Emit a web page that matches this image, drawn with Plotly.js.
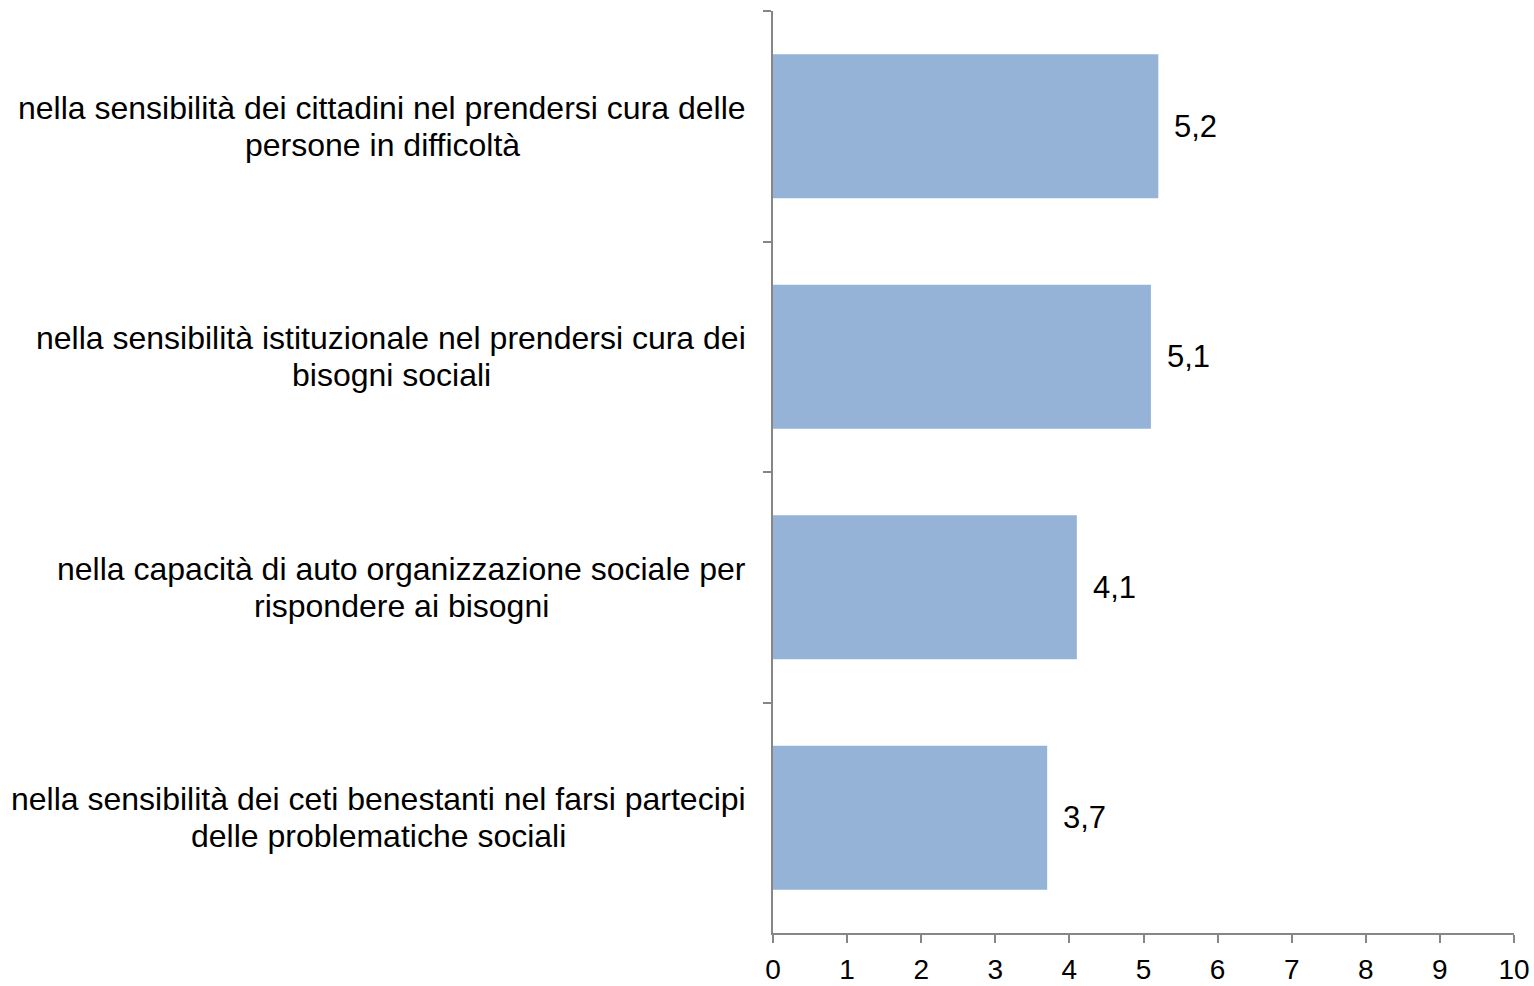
<!DOCTYPE html>
<html>
<head>
<meta charset="utf-8">
<script src="https://cdn.plot.ly/plotly-3.0.1.min.js"></script>
<style>html,body{margin:0;padding:0;background:#fff;}#chart{width:1534px;height:986px;}</style>
</head>
<body>
<div id="chart"></div>
<script>
const categories = [
  "nella sensibilità dei cittadini nel prendersi cura delle<br>persone in difficoltà",
  "nella sensibilità istituzionale nel prendersi cura dei<br>bisogni sociali",
  "nella capacità di auto organizzazione sociale per<br>rispondere ai bisogni",
  "nella sensibilità dei ceti benestanti nel farsi partecipi<br>delle problematiche sociali"
];
const values = [5.2, 5.1, 4.1, 3.7];
const valueLabels = ["5,2", "5,1", "4,1", "3,7"];
const xTicks = [0,1,2,3,4,5,6,7,8,9,10];

const font = "Liberation Sans, Arial, sans-serif";
const catSize = 32;
const ids = categories.map((c, i) => "c" + i);

const ctx = document.createElement("canvas").getContext("2d");
ctx.font = catSize + "px 'Liberation Sans'";

const annotations = [];
const lineGap = 37;
categories.forEach((c, i) => {
  const lines = c.split("<br>");
  const widths = lines.map(l => ctx.measureText(l).width);
  const maxW = Math.max(...widths);
  lines.forEach((l, j) => {
    annotations.push({
      xref: "paper", x: 0, yref: "y", y: ids[i],
      text: l, showarrow: false, xanchor: "center", yanchor: "middle",
      xshift: -27 - maxW / 2,
      yshift: ((lines.length - 1) / 2 - j) * lineGap,
      font: {family: font, size: catSize, color: "#000"}
    });
  });
  annotations.push({
    xref: "x", x: values[i], yref: "y", y: ids[i],
    text: valueLabels[i], showarrow: false, xanchor: "left", yanchor: "middle",
    xshift: 14,
    font: {family: font, size: 31, color: "#000"}
  });
});

Plotly.newPlot("chart", [{
  type: "bar", orientation: "h",
  x: values, y: ids,
  marker: {color: "#95B3D7", line: {width: 0}},
  width: 0.625,
  hoverinfo: "none"
}], {
  width: 1534, height: 986,
  margin: {l: 773, r: 20, t: 11, b: 53},
  paper_bgcolor: "#fff", plot_bgcolor: "#fff",
  showlegend: false,
  xaxis: {
    range: [0, 10], tickvals: xTicks, ticktext: xTicks.map(String),
    showline: true, linecolor: "#868686", linewidth: 2,
    ticks: "outside", ticklen: 8, tickwidth: 2, tickcolor: "#868686",
    ticklabelstandoff: 2,
    showgrid: false, zeroline: false, fixedrange: true,
    tickfont: {family: font, size: 28, color: "#000"}
  },
  yaxis: {
    type: "category", autorange: "reversed",
    showline: true, linecolor: "#868686", linewidth: 2,
    ticks: "outside", ticklen: 8, tickwidth: 2, tickcolor: "#868686",
    tickson: "boundaries", showticklabels: false,
    showgrid: false, zeroline: false, fixedrange: true
  },
  annotations: annotations
}, {displayModeBar: false, staticPlot: true});
</script>
</body>
</html>
